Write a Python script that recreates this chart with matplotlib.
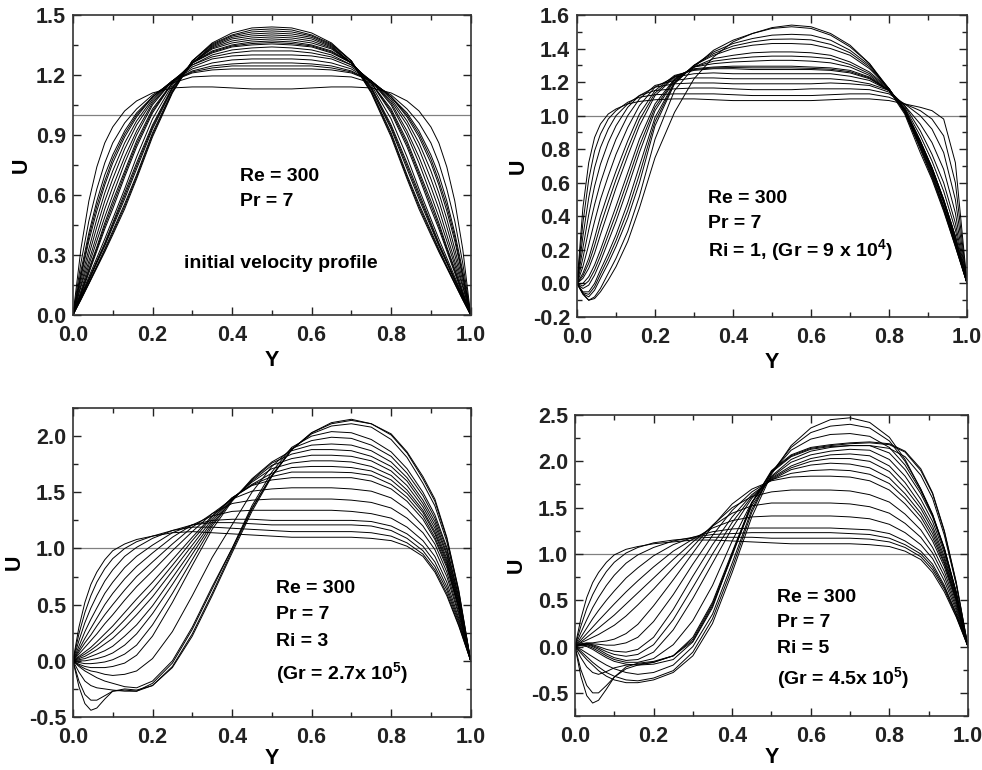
import matplotlib
matplotlib.use('Agg')
import matplotlib.pyplot as plt
from matplotlib.ticker import MultipleLocator, FormatStrFormatter

plt.rcParams['font.family'] = ['Liberation Sans', 'DejaVu Sans']
plt.rcParams['font.weight'] = 'bold'
plt.rcParams['mathtext.fontset'] = 'custom'
plt.rcParams['mathtext.rm'] = 'Liberation Sans:bold'
plt.rcParams['mathtext.it'] = 'Liberation Sans:bold'
plt.rcParams['mathtext.bf'] = 'Liberation Sans:bold'

y_half = [0, .02, .04, .06, .08, .10, .13, .16, .20, .25, .30, .35, .40, .45, .50]
u_init_half = [
    [0, .33, .57, .74, .86, .94, 1.02, 1.07, 1.11, 1.135, 1.14, 1.14, 1.135, 1.13, 1.13],
    [0, .26, .47, .63, .76, .86, .96, 1.03, 1.10, 1.16, 1.19, 1.195, 1.195, 1.195, 1.195],
    [0, .22, .41, .57, .70, .80, .92, 1.01, 1.09, 1.17, 1.21, 1.225, 1.23, 1.23, 1.23],
    [0, .20, .39, .545, .67, .78, .905, 1.0, 1.09, 1.17, 1.215, 1.235, 1.245, 1.245, 1.245],
    [0, .19, .37, .52, .65, .76, .89, .99, 1.09, 1.17, 1.22, 1.245, 1.255, 1.26, 1.26],
    [0, .17, .33, .48, .61, .72, .86, .97, 1.08, 1.17, 1.23, 1.26, 1.275, 1.28, 1.28],
    [0, .15, .30, .44, .57, .68, .83, .95, 1.07, 1.17, 1.24, 1.28, 1.295, 1.30, 1.30],
    [0, .14, .27, .40, .53, .64, .79, .92, 1.06, 1.17, 1.25, 1.29, 1.31, 1.32, 1.32],
    [0, .12, .25, .37, .49, .60, .76, .90, 1.05, 1.17, 1.25, 1.30, 1.325, 1.335, 1.34],
    [0, .11, .23, .34, .46, .57, .72, .87, 1.03, 1.16, 1.26, 1.31, 1.34, 1.35, 1.355],
    [0, .105, .22, .33, .445, .55, .705, .855, 1.02, 1.16, 1.26, 1.315, 1.345, 1.357, 1.362],
    [0, .10, .21, .32, .43, .53, .69, .84, 1.01, 1.16, 1.26, 1.32, 1.35, 1.365, 1.37],
    [0, .095, .19, .285, .38, .48, .63, .79, .98, 1.15, 1.26, 1.33, 1.36, 1.375, 1.38],
    [0, .09, .18, .27, .36, .46, .61, .76, .95, 1.14, 1.26, 1.335, 1.37, 1.385, 1.39],
    [0, .087, .175, .265, .352, .45, .595, .745, .94, 1.135, 1.26, 1.345, 1.388, 1.405, 1.41],
    [0, .085, .17, .26, .345, .44, .58, .73, .93, 1.13, 1.26, 1.34, 1.38, 1.395, 1.40],
    [0, .08, .16, .245, .33, .42, .555, .70, .91, 1.12, 1.27, 1.35, 1.395, 1.415, 1.42],
    [0, .078, .158, .24, .322, .41, .543, .69, .90, 1.115, 1.27, 1.355, 1.40, 1.425, 1.43],
    [0, .075, .155, .235, .315, .40, .53, .68, .89, 1.11, 1.27, 1.36, 1.41, 1.435, 1.44],
]

# ---- panels 2-4 share one Y grid ----
y_grid = [0, .015, .03, .045, .06, .08, .10, .13, .16, .20, .25, .30, .35, .40,
          .45, .50, .55, .60, .65, .70, .75, .80, .84, .88, .91, .94, .97, 1.0]

u_ri1 = [
    [0, .45, .72, .87, .95, 1.01, 1.04, 1.07, 1.085, 1.095, 1.10, 1.10, 1.095, 1.09, 1.09, 1.09, 1.09, 1.09, 1.095, 1.10, 1.10, 1.09, 1.07, 1.05, 1.03, .98, .72, 0],
    [0, .36, .62, .79, .89, .98, 1.03, 1.08, 1.11, 1.125, 1.13, 1.13, 1.13, 1.125, 1.12, 1.12, 1.12, 1.12, 1.125, 1.13, 1.13, 1.11, 1.07, 1.03, .98, .88, .60, 0],
    [0, .28, .51, .69, .81, .92, 1.00, 1.07, 1.12, 1.15, 1.16, 1.165, 1.165, 1.16, 1.155, 1.155, 1.155, 1.16, 1.16, 1.16, 1.155, 1.13, 1.07, 1.00, .92, .78, .50, 0],
    [0, .21, .41, .58, .71, .84, .94, 1.05, 1.12, 1.17, 1.19, 1.195, 1.195, 1.19, 1.19, 1.19, 1.19, 1.19, 1.195, 1.19, 1.18, 1.14, 1.06, .95, .84, .68, .42, 0],
    [0, .15, .32, .47, .60, .74, .86, 1.00, 1.10, 1.18, 1.21, 1.225, 1.225, 1.22, 1.22, 1.22, 1.22, 1.22, 1.22, 1.21, 1.19, 1.15, 1.06, .91, .77, .60, .36, 0],
    [0, .10, .23, .37, .50, .64, .77, .93, 1.06, 1.17, 1.23, 1.25, 1.255, 1.25, 1.25, 1.25, 1.25, 1.25, 1.25, 1.235, 1.21, 1.15, 1.05, .88, .73, .55, .32, 0],
    [0, .06, .15, .27, .40, .54, .67, .85, 1.01, 1.15, 1.24, 1.27, 1.28, 1.28, 1.275, 1.275, 1.275, 1.275, 1.27, 1.255, 1.22, 1.15, 1.04, .85, .69, .50, .28, 0],
    [0, .045, .12, .225, .345, .485, .62, .805, .975, 1.135, 1.235, 1.275, 1.285, 1.287, 1.285, 1.285, 1.285, 1.282, 1.277, 1.262, 1.225, 1.15, 1.04, .85, .69, .50, .28, 0],
    [0, .03, .09, .18, .29, .43, .57, .76, .94, 1.12, 1.23, 1.28, 1.29, 1.295, 1.295, 1.295, 1.295, 1.29, 1.285, 1.27, 1.23, 1.15, 1.04, .85, .69, .50, .28, 0],
    [0, .0, .04, .11, .20, .33, .46, .66, .86, 1.07, 1.22, 1.29, 1.31, 1.32, 1.325, 1.33, 1.33, 1.325, 1.315, 1.29, 1.24, 1.15, 1.04, .84, .68, .49, .26, 0],
    [0, -.015, .015, .08, .165, .29, .415, .615, .82, 1.05, 1.215, 1.29, 1.325, 1.34, 1.35, 1.355, 1.355, 1.35, 1.34, 1.305, 1.25, 1.155, 1.035, .835, .675, .485, .255, 0],
    [0, -.03, -.01, .05, .13, .25, .37, .57, .78, 1.03, 1.21, 1.29, 1.34, 1.36, 1.375, 1.38, 1.38, 1.375, 1.36, 1.32, 1.26, 1.16, 1.03, .83, .67, .48, .25, 0],
    [0, -.05, -.05, .0, .08, .18, .29, .48, .70, .99, 1.20, 1.30, 1.36, 1.40, 1.42, 1.43, 1.43, 1.425, 1.40, 1.36, 1.28, 1.16, 1.03, .82, .66, .46, .24, 0],
    [0, -.055, -.065, -.02, .055, .15, .255, .435, .65, .965, 1.195, 1.30, 1.37, 1.415, 1.44, 1.455, 1.457, 1.452, 1.425, 1.375, 1.29, 1.16, 1.025, .815, .65, .455, .235, 0],
    [0, -.06, -.08, -.04, .03, .12, .22, .39, .60, .94, 1.19, 1.30, 1.38, 1.43, 1.46, 1.48, 1.485, 1.48, 1.45, 1.39, 1.30, 1.16, 1.02, .81, .64, .45, .23, 0],
    [0, -.065, -.10, -.08, -.03, .06, .15, .31, .52, .86, 1.15, 1.29, 1.39, 1.45, 1.49, 1.52, 1.53, 1.52, 1.48, 1.41, 1.31, 1.16, 1.02, .80, .63, .44, .22, 0],
    [0, -.06, -.10, -.09, -.05, .02, .10, .25, .45, .75, 1.02, 1.22, 1.35, 1.44, 1.49, 1.525, 1.54, 1.53, 1.49, 1.42, 1.31, 1.15, 1.01, .78, .62, .43, .22, 0],
]

u_ri3 = [
    [0, .30, .52, .68, .79, .90, .98, 1.04, 1.08, 1.11, 1.14, 1.15, 1.14, 1.13, 1.12, 1.11, 1.10, 1.10, 1.10, 1.10, 1.09, 1.07, 1.02, .93, .79, .58, .31, 0],
    [0, .24, .43, .58, .70, .82, .91, 1.00, 1.06, 1.11, 1.16, 1.19, 1.19, 1.18, 1.17, 1.16, 1.15, 1.15, 1.15, 1.15, 1.14, 1.11, 1.05, .95, .81, .60, .32, 0],
    [0, .18, .34, .47, .58, .71, .81, .93, 1.01, 1.09, 1.16, 1.21, 1.23, 1.23, 1.22, 1.21, 1.21, 1.21, 1.21, 1.21, 1.20, 1.16, 1.09, .98, .84, .63, .34, 0],
    [0, .13, .26, .37, .47, .60, .70, .83, .93, 1.03, 1.14, 1.21, 1.25, 1.26, 1.26, 1.25, 1.25, 1.25, 1.25, 1.25, 1.24, 1.20, 1.13, 1.02, .88, .66, .36, 0],
    [0, .10, .20, .29, .38, .50, .60, .73, .84, .96, 1.10, 1.21, 1.29, 1.33, 1.34, 1.34, 1.34, 1.34, 1.34, 1.33, 1.31, 1.27, 1.19, 1.07, .93, .70, .38, 0],
    [0, .08, .16, .23, .31, .41, .50, .63, .75, .88, 1.04, 1.19, 1.31, 1.40, 1.43, 1.44, 1.44, 1.44, 1.44, 1.43, 1.41, 1.36, 1.27, 1.14, .99, .75, .41, 0],
    [0, .06, .12, .18, .24, .33, .41, .54, .66, .80, .98, 1.15, 1.31, 1.44, 1.51, 1.53, 1.54, 1.54, 1.54, 1.53, 1.51, 1.45, 1.35, 1.20, 1.04, .79, .43, 0],
    [0, .04, .08, .12, .17, .24, .31, .43, .55, .70, .90, 1.10, 1.29, 1.45, 1.56, 1.61, 1.63, 1.63, 1.63, 1.63, 1.60, 1.53, 1.42, 1.26, 1.08, .83, .46, 0],
    [0, .03, .06, .095, .135, .195, .255, .365, .48, .635, .85, 1.07, 1.28, 1.45, 1.565, 1.64, 1.68, 1.68, 1.68, 1.675, 1.65, 1.57, 1.455, 1.29, 1.10, .85, .47, 0],
    [0, .02, .04, .07, .10, .15, .20, .30, .41, .57, .80, 1.03, 1.26, 1.45, 1.57, 1.67, 1.72, 1.73, 1.73, 1.72, 1.69, 1.61, 1.49, 1.32, 1.13, .87, .48, 0],
    [0, .01, .02, .04, .06, .09, .13, .22, .32, .49, .74, .99, 1.24, 1.44, 1.59, 1.71, 1.76, 1.78, 1.78, 1.77, 1.73, 1.65, 1.52, 1.34, 1.15, .89, .49, 0],
    [0, .0, .0, .01, .02, .04, .07, .14, .24, .42, .68, .95, 1.22, 1.43, 1.60, 1.74, 1.80, 1.83, 1.83, 1.82, 1.78, 1.69, 1.56, 1.37, 1.18, .91, .51, 0],
    [0, -.015, -.025, -.025, -.02, -.01, .01, .06, .14, .32, .60, .90, 1.20, 1.43, 1.61, 1.76, 1.84, 1.88, 1.88, 1.87, 1.82, 1.73, 1.60, 1.40, 1.21, .94, .52, 0],
    [0, -.03, -.05, -.06, -.06, -.06, -.05, -.02, .05, .22, .52, .85, 1.17, 1.42, 1.62, 1.77, 1.87, 1.92, 1.93, 1.92, 1.87, 1.77, 1.63, 1.43, 1.24, .96, .54, 0],
    [0, -.04, -.07, -.09, -.10, -.12, -.13, -.12, -.09, .02, .26, .58, .92, 1.21, 1.50, 1.73, 1.89, 1.96, 1.99, 1.98, 1.92, 1.82, 1.67, 1.47, 1.27, .99, .56, 0],
    [0, -.05, -.09, -.12, -.15, -.18, -.20, -.23, -.24, -.18, .0, .30, .66, 1.00, 1.38, 1.68, 1.90, 2.00, 2.04, 2.03, 1.97, 1.86, 1.71, 1.50, 1.30, 1.01, .57, 0],
    [0, -.10, -.18, -.22, -.24, -.25, -.26, -.27, -.27, -.20, -.02, .28, .64, 1.0, 1.36, 1.65, 1.88, 2.02, 2.09, 2.11, 2.08, 1.97, 1.81, 1.58, 1.38, 1.06, .60, 0],
    [0, -.18, -.30, -.35, -.35, -.31, -.27, -.26, -.27, -.22, -.05, .24, .60, .98, 1.35, 1.65, 1.88, 2.03, 2.11, 2.14, 2.11, 2.01, 1.85, 1.62, 1.42, 1.09, .62, 0],
    [0, -.23, -.38, -.44, -.42, -.34, -.27, -.25, -.26, -.22, -.06, .22, .58, .96, 1.33, 1.64, 1.88, 2.03, 2.12, 2.15, 2.11, 2.02, 1.86, 1.64, 1.44, 1.10, .63, 0],
]

u_ri5 = [
    [0, .30, .53, .69, .80, .91, .99, 1.05, 1.08, 1.11, 1.13, 1.15, 1.15, 1.14, 1.13, 1.12, 1.11, 1.11, 1.11, 1.11, 1.10, 1.08, 1.03, .94, .80, .59, .32, 0],
    [0, .22, .41, .56, .68, .81, .91, 1.01, 1.07, 1.12, 1.15, 1.17, 1.18, 1.18, 1.18, 1.17, 1.17, 1.17, 1.17, 1.17, 1.16, 1.13, 1.07, .97, .83, .62, .33, 0],
    [0, .15, .29, .42, .53, .66, .77, .90, .99, 1.07, 1.14, 1.18, 1.21, 1.22, 1.23, 1.23, 1.23, 1.23, 1.23, 1.22, 1.21, 1.17, 1.10, 1.00, .86, .64, .35, 0],
    [0, .10, .20, .30, .39, .50, .60, .74, .85, .98, 1.10, 1.18, 1.24, 1.27, 1.28, 1.28, 1.28, 1.28, 1.28, 1.27, 1.26, 1.22, 1.14, 1.03, .89, .66, .36, 0],
    [0, .07, .14, .21, .28, .37, .46, .59, .71, .86, 1.03, 1.16, 1.28, 1.36, 1.40, 1.41, 1.41, 1.41, 1.41, 1.40, 1.38, 1.32, 1.23, 1.10, .95, .71, .39, 0],
    [0, .05, .10, .15, .20, .27, .34, .46, .58, .74, .94, 1.13, 1.30, 1.44, 1.52, 1.55, 1.55, 1.55, 1.55, 1.54, 1.51, 1.44, 1.33, 1.18, 1.01, .76, .42, 0],
    [0, .04, .07, .10, .13, .18, .23, .33, .45, .62, .85, 1.08, 1.31, 1.50, 1.62, 1.67, 1.69, 1.69, 1.69, 1.68, 1.64, 1.56, 1.43, 1.26, 1.07, .81, .45, 0],
    [0, .03, .04, .04, .05, .06, .08, .14, .24, .44, .72, 1.01, 1.30, 1.54, 1.70, 1.79, 1.83, 1.84, 1.84, 1.83, 1.79, 1.69, 1.54, 1.35, 1.14, .86, .48, 0],
    [0, .025, .035, .03, .025, .015, .015, .04, .10, .27, .56, .89, 1.20, 1.47, 1.67, 1.80, 1.87, 1.90, 1.91, 1.90, 1.86, 1.76, 1.60, 1.40, 1.18, .89, .50, 0],
    [0, .02, .03, .02, .0, -.03, -.05, -.06, -.03, .10, .40, .76, 1.10, 1.40, 1.64, 1.80, 1.91, 1.96, 1.98, 1.97, 1.93, 1.82, 1.65, 1.44, 1.22, .91, .51, 0],
    [0, .02, .025, .01, -.015, -.055, -.085, -.105, -.085, .02, .29, .64, 1.00, 1.34, 1.62, 1.81, 1.93, 2.00, 2.03, 2.03, 2.00, 1.89, 1.71, 1.49, 1.26, .94, .53, 0],
    [0, .02, .02, .0, -.03, -.08, -.12, -.15, -.14, -.06, .18, .52, .90, 1.28, 1.60, 1.82, 1.95, 2.03, 2.07, 2.08, 2.06, 1.95, 1.77, 1.53, 1.30, .97, .54, 0],
    [0, .015, .01, -.015, -.05, -.10, -.14, -.17, -.17, -.13, .02, .28, .66, 1.14, 1.56, 1.83, 1.99, 2.07, 2.11, 2.13, 2.12, 2.02, 1.84, 1.59, 1.35, 1.01, .56, 0],
    [0, .01, .0, -.03, -.07, -.12, -.16, -.19, -.20, -.19, -.14, .05, .42, 1.00, 1.52, 1.84, 2.02, 2.11, 2.15, 2.17, 2.17, 2.09, 1.91, 1.65, 1.40, 1.04, .58, 0],
    [0, -.03, -.07, -.11, -.15, -.20, -.24, -.28, -.30, -.28, -.20, .0, .35, .90, 1.48, 1.88, 2.12, 2.24, 2.29, 2.30, 2.27, 2.15, 1.96, 1.68, 1.42, 1.06, .59, 0],
    [0, -.05, -.11, -.17, -.22, -.28, -.32, -.36, -.37, -.34, -.26, -.06, .30, .85, 1.45, 1.88, 2.15, 2.31, 2.38, 2.40, 2.36, 2.22, 2.00, 1.70, 1.43, 1.06, .59, 0],
    [0, -.07, -.14, -.20, -.26, -.32, -.36, -.39, -.39, -.36, -.28, -.10, .25, .80, 1.40, 1.86, 2.17, 2.36, 2.45, 2.47, 2.42, 2.26, 2.02, 1.70, 1.42, 1.05, .58, 0],
    [0, -.12, -.22, -.28, -.30, -.27, -.23, -.20, -.19, -.17, -.10, .10, .48, 1.02, 1.55, 1.88, 2.05, 2.13, 2.16, 2.17, 2.17, 2.14, 2.05, 1.85, 1.60, 1.20, .67, 0],
    [0, -.25, -.42, -.50, -.50, -.42, -.33, -.24, -.20, -.17, -.10, .08, .46, 1.0, 1.55, 1.89, 2.06, 2.14, 2.17, 2.19, 2.20, 2.18, 2.10, 1.90, 1.65, 1.24, .69, 0],
    [0, -.32, -.53, -.61, -.58, -.46, -.33, -.22, -.18, -.16, -.10, .06, .44, .98, 1.55, 1.90, 2.07, 2.15, 2.18, 2.20, 2.21, 2.19, 2.11, 1.92, 1.66, 1.25, .70, 0],
]

notes_init = ['Re = 300', 'Pr = 7', 'initial velocity profile']
notes_ri1 = ['Re = 300', 'Pr = 7', r'Ri = 1, (Gr = 9 x 10$^{4}$)']
notes_ri3 = ['Re = 300', 'Pr = 7', 'Ri = 3', r'(Gr = 2.7x 10$^{5}$)']
notes_ri5 = ['Re = 300', 'Pr = 7', 'Ri = 5', r'(Gr = 4.5x 10$^{5}$)']

# mirror the symmetric entrance profiles
y_init = y_half + [round(1 - v, 3) for v in y_half[-2::-1]]
u_init = [u + u[-2::-1] for u in u_init_half]


def draw_panel(fig, rect, y, profiles, ylim, ymaj, ymin, notes, note_xy, xpad=3):
    ax = fig.add_axes(rect)
    ax.axhline(1.0, color='#808080', lw=0.9, zorder=1)
    for u in profiles:
        ax.plot(y, u, color='black', lw=0.7, zorder=2)
    ax.set_xlim(0, 1.0)
    ax.set_ylim(*ylim)
    ax.xaxis.set_major_locator(MultipleLocator(0.2))
    ax.xaxis.set_minor_locator(MultipleLocator(0.1))
    ax.yaxis.set_major_locator(MultipleLocator(ymaj))
    ax.yaxis.set_minor_locator(MultipleLocator(ymin))
    ax.xaxis.set_major_formatter(FormatStrFormatter('%.1f'))
    ax.yaxis.set_major_formatter(FormatStrFormatter('%.1f'))
    ax.tick_params(which='both', direction='in', top=True, right=True,
                   labelsize=15.5, width=1.0, colors='#222222')
    ax.tick_params(which='major', length=6)
    ax.tick_params(which='minor', length=3.5)
    ax.tick_params(axis='x', pad=7)
    ax.tick_params(axis='y', pad=5)
    for s in ax.spines.values():
        s.set_linewidth(1.2)
        s.set_color('#333333')
    ax.set_xlabel('Y', fontsize=15.5, fontweight='bold', labelpad=xpad)
    ax.set_ylabel('U', fontsize=15.5, fontweight='bold', labelpad=3)
    for (tx, ty), s in zip(note_xy, notes):
        ax.text(tx, ty, s, fontsize=14, fontweight='bold', va='center', ha='left')
    return ax


fig = plt.figure(figsize=(9.82, 7.70), dpi=100)
fig.patch.set_facecolor('white')

draw_panel(fig, [0.0743, 0.591, 0.405, 0.3896], y_init, u_init,
           (0, 1.5), 0.3, 0.15, notes_init,
           [(0.42, 0.69), (0.42, 0.567), (0.279, 0.258)])
draw_panel(fig, [0.5876, 0.5883, 0.3972, 0.3922], y_grid, u_ri1,
           (-0.2, 1.6), 0.2, 0.1, notes_ri1,
           [(0.337, 0.508), (0.337, 0.359), (0.337, 0.20)])
draw_panel(fig, [0.0743, 0.0688, 0.405, 0.4013], y_grid, u_ri3,
           (-0.5, 2.25), 0.5, 0.25, notes_ri3,
           [(0.51, 0.642), (0.51, 0.411), (0.51, 0.175), (0.51, -0.107)], xpad=0)
draw_panel(fig, [0.5855, 0.0701, 0.4002, 0.3909], y_grid, u_ri5,
           (-0.75, 2.5), 0.5, 0.25, notes_ri5,
           [(0.513, 0.532), (0.513, 0.255), (0.513, -0.02), (0.513, -0.338)], xpad=0)

fig.savefig('out.png', dpi=100)
